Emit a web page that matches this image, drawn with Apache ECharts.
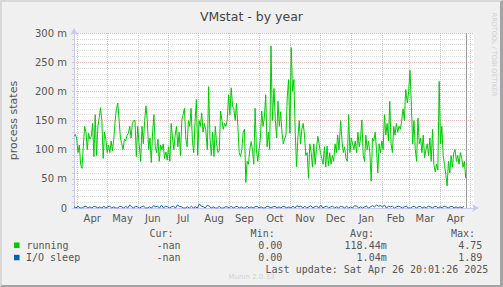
<!DOCTYPE html>
<html><head><meta charset="utf-8">
<script src="https://cdn.jsdelivr.net/npm/echarts@6/dist/echarts.min.js"></script>
<style>
html,body{margin:0;padding:0;background:#f0f0f0;}
#wrap{position:relative;width:503px;height:287px;}
#chart{width:503px;height:287px;}
#frame{position:absolute;left:0;top:0;width:503px;height:287px;box-sizing:border-box;border-top:2px solid #d8d8d8;border-left:2px solid #d8d8d8;border-bottom:2px solid #a4a4a4;border-right:3px solid #a4a4a4;pointer-events:none;}
</style></head>
<body><div id="wrap"><div id="chart"></div><div id="frame"></div></div>
<script>
// ---- data (values in milli "m" units) ----
const monthNames = ['Apr','May','Jun','Jul','Aug','Sep','Oct','Nov','Dec','Jan','Feb','Mar','Apr'];
const monthYears = [2024,2024,2024,2024,2024,2024,2024,2024,2024,2025,2025,2025,2025];
const monthIdx   = [3,4,5,6,7,8,9,10,11,0,1,2,3];
const yTickLabels = ['0','50 m','100 m','150 m','200 m','250 m','300 m'];

// running: six segments, each sampled every 4/3 day
const running1 = [123,126,120,95,108,75,68,105,140,130,100,128,118,122,145,88,160,90,140,155,172,150,85,130,118,95,108,95,115,98,118,150,170,180,150,120,110,100,118,115,125,128,140,120,145,150,150,88,140,112];
const running2 = [80,140,110,150,175,150,100,120,78,130,160,105,95,118,80,108,100,110,85,96,82,105,80,145,120,100,125,140,105,130,90,150,160,171,120,105,150,140,171,115,95,148,186,90,150,140,163,130,145,135];
const running3 = [100,208,120,90,130,88,140,110,95,98,166,150,135,145,140,150,194,160,206,175,170,150,180,140,95,88,100,130,135,44,80,75,100,114,100,75,171,100,80,100,120,166,140,155,194,105,130,100,278,150];
const running4 = [205,150,120,183,140,165,130,110,118,125,190,220,128,275,200,220,130,71,120,150,110,135,145,125,90,95,51,110,95,70,110,75,100,123,110,95,85,75,105,70,106,72,95,75,90,80,110,95,125,100];
const running5 = [150,115,95,105,85,80,160,95,120,110,100,115,95,130,105,120,151,90,80,125,100,115,95,46,120,115,130,100,60,110,95,115,100,160,125,145,115,183,110,95,140,125,145,130,140,135,150,170,150,203];
const running6 = [180,200,236,180,110,150,100,80,154,110,120,95,125,86,100,110,90,120,80,135,75,62,75,65,217,110,140,90,75,57,38,80,60,90,70,95,100,80,90,75,95,85,70,80,51];
// I/O sleep: sampled every 2 days
const ioSleep = [2,0,3,0,0,2,3,0,2,0,3,2,0,2,0,3,0,2,3,0,2,0,0,3,2,0,3,0,5,2,
 0,3,2,0,2,3,0,0,2,0,4,2,3,0,5,0,3,2,0,2,3,0,5,3,2,0,0,2,0,3,
 0,2,0,7,3,2,0,5,3,0,2,0,0,3,0,0,2,2,0,3,
 0,2,3,0,2,0,0,3,0,2,0,2,3,0,2,0,0,3,2,0,
 2,3,0,2,0,3,2,0,2,0,3,0,4,2,3,0,3,0,2,4,
 0,2,3,0,5,0,2,3,0,2,3,0,2,0,3,2,0,3,0,2,
 0,4,3,0,2,0,2,3,0,2,4,2,5,3,4,2,5,0,3,2,
 3,0,2,3,2,0,2,3,0,0,2,3,0,2,3,0,2,0,3,2,
 0,2,3,0,2,0,3,2,0,2,3,0,2,0,2,0,3];

// ---- time mapping (x axis in days from plot start) ----
const DAY = 86400000;
const startMs = Date.UTC(2024,2,28,17);
const nowMs = Date.UTC(2025,3,26,20,1,26);
const toDay = ms => (ms - startMs)/DAY;
const monthStarts = monthIdx.map((m,i)=>toDay(Date.UTC(monthYears[i], m, 1)));
monthStarts.push(toDay(Date.UTC(2025,4,1)));
const monthMids = monthNames.map((n,i)=>(monthStarts[i]+monthStarts[i+1])/2);

const segs = [running1,running2,running3,running4,running5,running6];
const runningData = [];
segs.forEach((s,k)=>s.forEach((v,j)=>runningData.push([67*k + j*4/3, v])));
const ioData = ioSleep.map((v,i)=>[i*2, v]);

const chart = echarts.init(document.getElementById('chart'), null, {renderer:'svg', width:503, height:287});
const font = 'DejaVu Sans';
const mono = 'DejaVu Sans Mono';
const txt = '#555';
const legendText = (x,y,s,align,extra) => Object.assign({type:'text', x:x, y:y, style:{text:s, fill:txt, font:'10px "'+mono+'"', textAlign:align||'left', textVerticalAlign:'middle'}}, extra||{});

chart.setOption({
  animation:false,
  backgroundColor:'#f0f0f0',
  title:{text:'VMstat - by year', left:'center', top:5, textStyle:{fontFamily:font, fontSize:12.5, fontWeight:'normal', color:'#444'}},
  grid:{left:72, top:33, width:402, height:175, show:true, backgroundColor:'#fff', borderWidth:0},
  xAxis:{type:'value', min:0, max:402,
    axisLine:{show:true, lineStyle:{color:'#c8c8f0', width:1}, symbol:['none','arrow'], symbolSize:[6,7], symbolOffset:[0,5]},
    axisTick:{show:false},
    splitLine:{show:false},
    axisLabel:{customValues:monthMids, fontFamily:font, fontSize:10, color:txt, margin:5,
      formatter:function(v){let b=0,d=1e9;monthMids.forEach((m,i)=>{if(Math.abs(m-v)<d){d=Math.abs(m-v);b=i;}});return monthNames[b];}}
  },
  yAxis:{type:'value', min:0, max:300, interval:10,
    name:'process states', nameLocation:'middle', nameGap:55, nameTextStyle:{fontFamily:font, fontSize:11, color:txt},
    axisLine:{show:true, lineStyle:{color:'#c8c8f0', width:1}, symbol:['none','arrow'], symbolSize:[6,7], symbolOffset:[0,5]},
    axisTick:{show:true, length:2, lineStyle:{color:'#c8c8f0'}},
    axisLabel:{fontFamily:font, fontSize:10, color:txt, margin:7,
      formatter:function(v){return v%50===0 ? yTickLabels[v/50] : '';}},
    splitLine:{show:true, lineStyle:{color:['#f0b4b4','#dcdcdc','#dcdcdc','#dcdcdc','#dcdcdc'], type:[1,1], width:1}}
  },
  series:[
    {type:'line', data:[], z:1, silent:true,
      markLine:{silent:true, symbol:'none', z:1, label:{show:false},
        lineStyle:{color:'#f0b4b4', type:[1,1], width:1},
        data:monthStarts.map(v=>({xAxis:v}))}},
    {type:'line', data:[], z:4, silent:true,
      markLine:{silent:true, symbol:'none', z:4, label:{show:false},
        lineStyle:{color:'#999', type:'solid', width:1},
        data:[{xAxis:toDay(nowMs)}]}},
    {name:'running', type:'line', data:runningData, showSymbol:false, z:3,
      lineStyle:{color:'#00cc00', width:1}, itemStyle:{color:'#00cc00'}},
    {name:'I/O sleep', type:'line', data:ioData, showSymbol:false, z:3,
      lineStyle:{color:'#0066b3', width:1}, itemStyle:{color:'#0066b3'}}
  ],
  graphic:[
    {type:'text', x:493.7, y:54.5, rotation:-Math.PI/2, style:{text:'RRDTOOL / TOBI OETIKER', fill:'#cfcfcf', font:'6.5px "'+font+'"', textAlign:'center', textVerticalAlign:'middle'}},
    legendText(173.5,233.3,'Cur:','right'),
    legendText(274.7,233.3,'Min:','right'),
    legendText(374,233.3,'Avg:','right'),
    legendText(475,233.3,'Max:','right'),
    {type:'rect', shape:{x:14,y:242.5,width:5.5,height:5.5}, style:{fill:'#00cc00'}},
    legendText(26.5,245,'running'),
    legendText(180.5,245,'-nan','right'),
    legendText(282.3,245,'0.00','right'),
    legendText(386.7,245,'118.44m','right'),
    legendText(482.3,245,'4.75','right'),
    {type:'rect', shape:{x:14,y:254.8,width:5.5,height:5.5}, style:{fill:'#0066b3'}},
    legendText(26,257.3,'I/O sleep'),
    legendText(180.5,257.3,'-nan','right'),
    legendText(282.3,257.3,'0.00','right'),
    legendText(386.7,257.3,'1.04m','right'),
    legendText(482.3,257.3,'1.89','right'),
    legendText(488.3,269.3,'Last update: Sat Apr 26 20:01:26 2025','right'),
    {type:'text', x:251.5, y:276.7, style:{text:'Munin 2.0.33', fill:'#d0d0d0', font:'7px "'+font+'"', textAlign:'center', textVerticalAlign:'middle'}}
  ]
});
</script></body></html>
